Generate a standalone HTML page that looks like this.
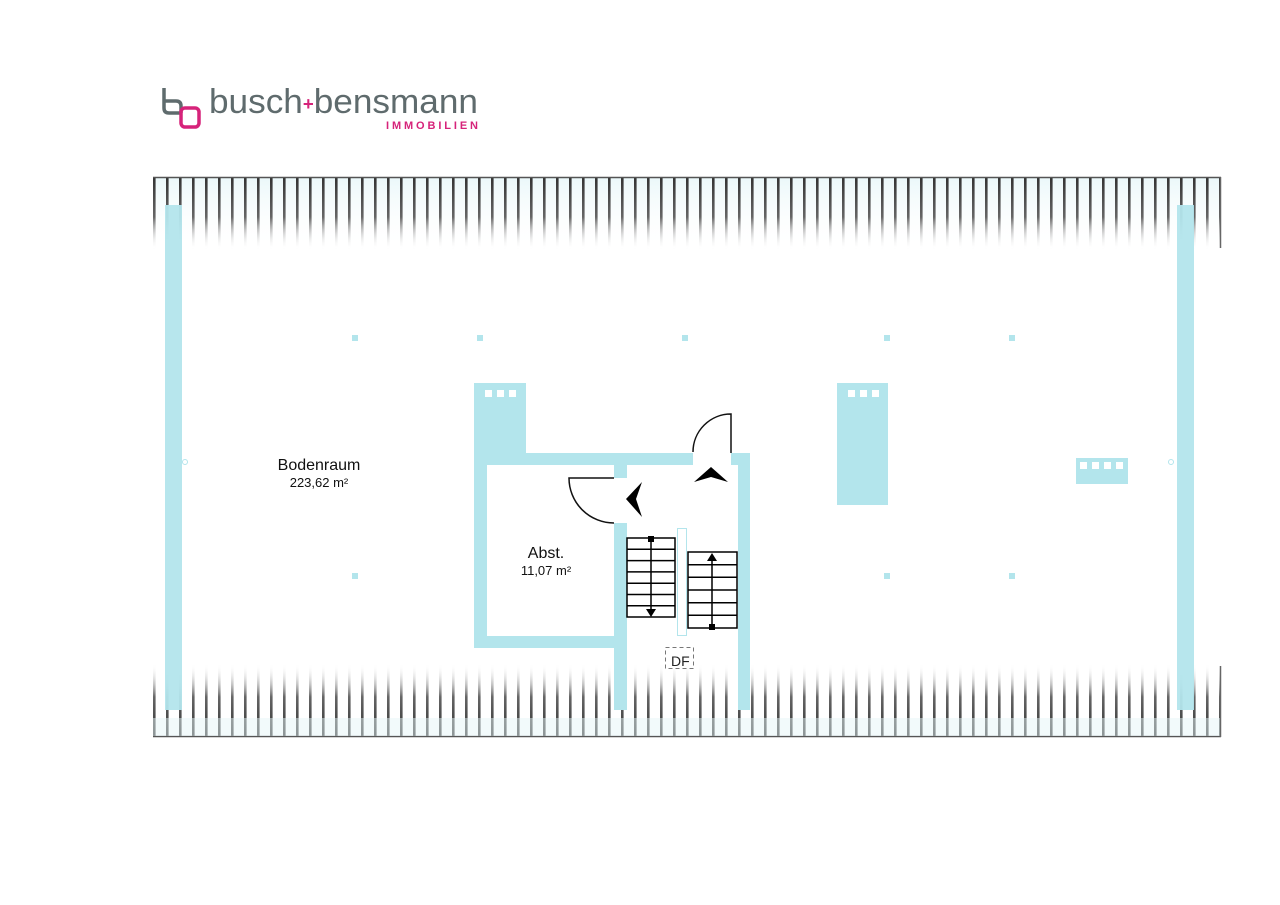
<!DOCTYPE html>
<html><head><meta charset="utf-8"><style>
html,body{margin:0;padding:0;background:#fff;width:1280px;height:905px;overflow:hidden}
svg{display:block}
</style></head><body>
<svg width="1280" height="905" viewBox="0 0 1280 905" xmlns="http://www.w3.org/2000/svg" font-family="Liberation Sans, sans-serif">
<defs>
<linearGradient id="gt" x1="0" y1="177" x2="0" y2="250" gradientUnits="userSpaceOnUse">
<stop offset="0" stop-color="#333"/><stop offset="0.55" stop-color="#666"/><stop offset="1" stop-color="#fff" stop-opacity="0"/>
</linearGradient>
<linearGradient id="gb" x1="0" y1="737" x2="0" y2="664" gradientUnits="userSpaceOnUse">
<stop offset="0" stop-color="#333"/><stop offset="0.55" stop-color="#666"/><stop offset="1" stop-color="#fff" stop-opacity="0"/>
</linearGradient>
<linearGradient id="ct" x1="0" y1="177" x2="0" y2="250" gradientUnits="userSpaceOnUse">
<stop offset="0" stop-color="#e8f7f9" stop-opacity="0.9"/><stop offset="1" stop-color="#fff" stop-opacity="0"/>
</linearGradient>
<pattern id="pt" x="153" y="0" width="13" height="905" patternUnits="userSpaceOnUse">
<rect x="0" y="0" width="2.6" height="905" fill="url(#gt)"/>
</pattern>
<pattern id="pb" x="153" y="0" width="13" height="905" patternUnits="userSpaceOnUse">
<rect x="0" y="0" width="2.6" height="905" fill="url(#gb)"/>
</pattern>
</defs>

<!-- logo -->
<path d="M164 88 V108 Q164 113 169 113 H181" fill="none" stroke="#5f6b6d" stroke-width="3.5"/>
<path d="M164 101 H176 Q181 101 181 106 V113" fill="none" stroke="#5f6b6d" stroke-width="3.5"/>
<rect x="181" y="108" width="18" height="19" rx="4" fill="none" stroke="#d6237a" stroke-width="3.5"/>
<text x="209" y="113" font-size="34" fill="#5f6b6d" textLength="269" lengthAdjust="spacingAndGlyphs">busch<tspan fill="#d6237a" font-size="18" font-weight="bold" dy="-3">+</tspan><tspan dy="3">bensmann</tspan></text>
<text x="386" y="129" font-size="11" font-weight="bold" fill="#d6237a" textLength="92" lengthAdjust="spacing">IMMOBILIEN</text>

<!-- roof hatching -->
<rect x="153" y="177" width="1067" height="72" fill="url(#ct)"/>
<rect x="153" y="177" width="1068" height="74" fill="url(#pt)"/>
<rect x="153" y="663" width="1068" height="74" fill="url(#pb)"/>
<line x1="153" y1="177.5" x2="1221" y2="177.5" stroke="#555" stroke-width="1.5"/>
<line x1="153" y1="736.5" x2="1221" y2="736.5" stroke="#555" stroke-width="1.5"/>
<line x1="1220.5" y1="177" x2="1220.5" y2="248" stroke="#666" stroke-width="1.5"/>
<line x1="1220.5" y1="666" x2="1220.5" y2="737" stroke="#666" stroke-width="1.5"/>
<rect x="153" y="718" width="1067" height="18" fill="#e6f6f8" opacity="0.5"/>

<!-- outer side walls -->
<rect x="165" y="205" width="17" height="505" fill="#b3e5ec" opacity="0.95"/>
<rect x="1177" y="205" width="17" height="505" fill="#b3e5ec" opacity="0.95"/>
<circle cx="185" cy="462" r="2.5" fill="none" stroke="#b3e5ec"/>
<circle cx="1171" cy="462" r="2.5" fill="none" stroke="#b3e5ec"/>

<!-- small posts -->
<g fill="#b3e5ec">
<rect x="352" y="335" width="6" height="6"/><rect x="477" y="335" width="6" height="6"/>
<rect x="682" y="335" width="6" height="6"/><rect x="884" y="335" width="6" height="6"/>
<rect x="1009" y="335" width="6" height="6"/>
<rect x="352" y="573" width="6" height="6"/><rect x="884" y="573" width="6" height="6"/>
<rect x="1009" y="573" width="6" height="6"/>
</g>

<!-- inner walls -->
<g fill="#b3e5ec">
<rect x="474" y="383" width="52" height="82"/>
<rect x="474" y="453" width="219" height="12"/>
<rect x="731" y="453" width="19" height="12"/>
<rect x="738" y="453" width="12" height="257"/>
<rect x="474" y="453" width="13" height="195"/>
<rect x="474" y="636" width="152" height="12"/>
<rect x="614" y="453" width="13" height="25"/>
<rect x="614" y="523" width="13" height="187"/>
<rect x="837" y="383" width="51" height="122"/>
<rect x="1076" y="458" width="52" height="26"/>
</g>
<g fill="#fff">
<rect x="485" y="390" width="7" height="7"/><rect x="497" y="390" width="7" height="7"/><rect x="509" y="390" width="7" height="7"/>
<rect x="848" y="390" width="7" height="7"/><rect x="860" y="390" width="7" height="7"/><rect x="872" y="390" width="7" height="7"/>
<rect x="1080" y="462" width="7" height="7"/><rect x="1092" y="462" width="7" height="7"/><rect x="1104" y="462" width="7" height="7"/><rect x="1116" y="462" width="7" height="7"/>
</g>

<!-- doors -->
<path d="M614 478 H569 A45 45 0 0 0 614 523" fill="none" stroke="#111" stroke-width="1.5"/>
<path d="M731 453 V414 A38 38 0 0 0 693 452" fill="none" stroke="#111" stroke-width="1.5"/>
<path d="M626 499 L642 482 L636 499 L642 517 Z" fill="#000"/>
<path d="M711 467 L728 482 L711 477 L694 482 Z" fill="#000"/>

<!-- stairs -->
<rect x="677.5" y="528.5" width="9" height="107" fill="#fff" stroke="#b3e5ec"/>
<g fill="none" stroke="#000" stroke-width="1.5">
<rect x="627" y="538" width="48" height="79"/>
<path d="M627 549.3H675M627 560.6H675M627 571.9H675M627 583.2H675M627 594.5H675M627 605.8H675"/>
<line x1="651" y1="540" x2="651" y2="610"/>
<rect x="688" y="552" width="49" height="76"/>
<path d="M688 564.7H737M688 577.3H737M688 590H737M688 602.7H737M688 615.3H737"/>
<line x1="712" y1="560" x2="712" y2="626"/>
</g>
<rect x="648" y="536" width="6" height="6" fill="#000"/>
<path d="M646 609 L656 609 L651 617 Z" fill="#000"/>
<rect x="709" y="624" width="6" height="6" fill="#000"/>
<path d="M707 561 L717 561 L712 553 Z" fill="#000"/>

<!-- DF -->
<rect x="665.5" y="647.5" width="28" height="21" fill="none" stroke="#777" stroke-dasharray="4,3"/>
<text x="671" y="666" font-size="14" fill="#222">DF</text>

<!-- labels -->
<text x="319" y="470" font-size="16" fill="#111" text-anchor="middle">Bodenraum</text>
<text x="319" y="487" font-size="13" fill="#111" text-anchor="middle">223,62 m²</text>
<text x="546" y="558" font-size="16" fill="#111" text-anchor="middle">Abst.</text>
<text x="546" y="575" font-size="13" fill="#111" text-anchor="middle">11,07 m²</text>
</svg>
</body></html>
